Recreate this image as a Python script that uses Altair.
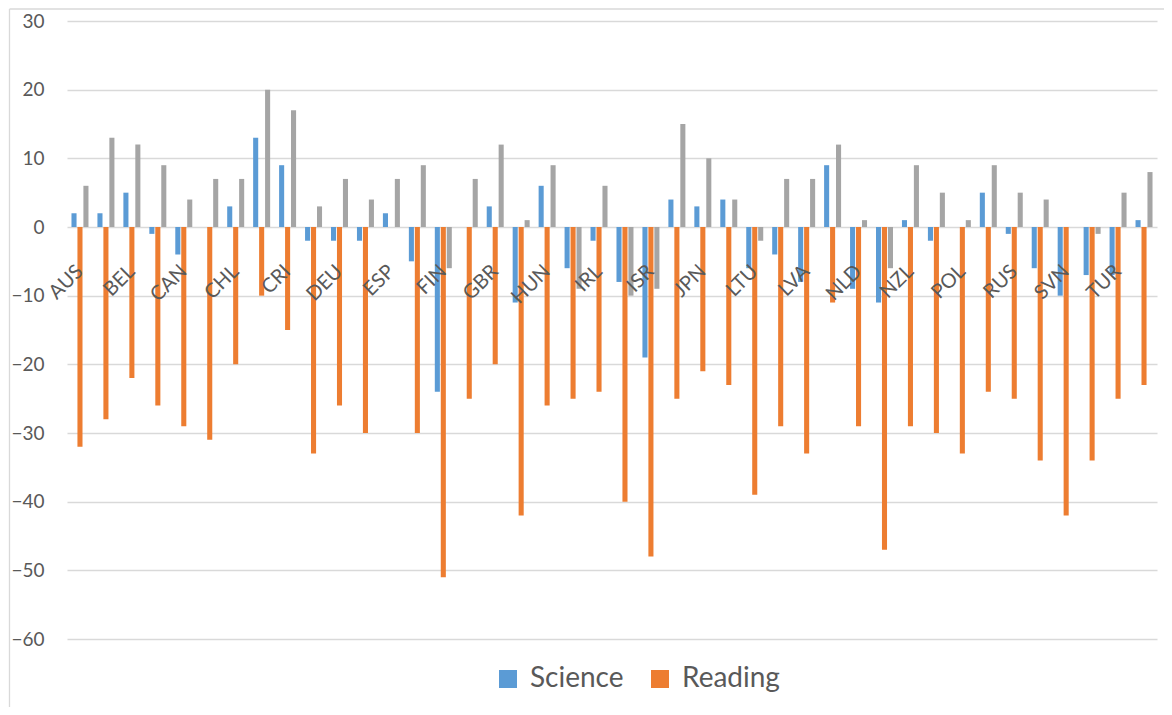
import altair as alt
import pandas as pd

countries = ["AUS", "AUT", "BEL", "BRA", "CAN", "CHE", "CHL", "COL", "CRI", "CZE",
             "DEU", "DNK", "ESP", "EST", "FIN", "FRA", "GBR", "GRC", "HUN", "IDN",
             "IRL", "ISL", "ISR", "ITA", "JPN", "KOR", "LTU", "LUX", "LVA", "MEX",
             "NLD", "NOR", "NZL", "PER", "POL", "PRT", "RUS", "SVK", "SVN", "SWE",
             "TUR", "USA"]

science = [2, 2, 5, -1, -4, 0, 3, 13, 9, -2,
           -2, -2, 2, -5, -24, 0, 3, -11, 6, -6,
           -2, -8, -19, 4, 3, 4, -6, -4, -8, 9,
           -9, -11, 1, -2, 0, 5, -1, -6, -10, -7,
           -7, 1]

reading = [-32, -28, -22, -26, -29, -31, -20, -10, -15, -33,
           -26, -30, None, -30, -51, -25, -20, -42, -26, -25,
           -24, -40, -48, -25, -21, -23, -39, -29, -33, -11,
           -29, -47, -29, -30, -33, -24, -25, -34, -42, -34,
           -25, -23]

mathematics = [6, 13, 12, 9, 4, 7, 7, 20, 17, 3,
               7, 4, 7, 9, -6, 7, 12, 1, 9, -9,
               6, -10, -9, 15, 10, 4, -2, 7, 7, 12,
               1, -6, 9, 5, 1, 9, 5, 4, 0, -1,
               5, 8]

series_names = ["Science", "Reading", "Mathematics"]
series_colors = ["#5B9BD5", "#ED7D31", "#A5A5A5"]
labelled = countries[::2]
y_ticks = [-60, -50, -40, -30, -20, -10, 0, 10, 20, 30]

rows = []
for name, vals in zip(series_names, [science, reading, mathematics]):
    for c, v in zip(countries, vals):
        if v is not None:
            rows.append({"country": c, "series": name, "value": v})
df = pd.DataFrame(rows)

W, H = 1090, 618
y0 = H * 30 / 90  # pixel position of zero line

bars = alt.Chart(df).mark_bar().encode(
    x=alt.X("country:N", sort=countries,
            scale=alt.Scale(paddingInner=0.345, paddingOuter=0.1725),
            axis=alt.Axis(orient="bottom", offset=-(H - y0), values=labelled,
                          labelAngle=-45, labelAlign="right", labelBaseline="middle",
                          labelPadding=41, tickSize=0, ticks=False, domain=False,
                          grid=False, labelFontSize=20, labelColor="#595959",
                          labelOverlap=False, title=None, zindex=1)),
    xOffset=alt.XOffset("series:N", sort=series_names,
                        scale=alt.Scale(paddingInner=0.15)),
    y=alt.Y("value:Q", scale=alt.Scale(domain=[-60, 30], nice=False),
            axis=alt.Axis(values=y_ticks, grid=True, gridColor="#d9d9d9",
                          gridWidth=1.3, domain=False, ticks=False, tickSize=0,
                          labelPadding=23, labelFontSize=19, labelColor="#595959",
                          title=None)),
    color=alt.Color("series:N", sort=series_names,
                    scale=alt.Scale(domain=series_names, range=series_colors),
                    legend=alt.Legend(orient="none", legendX=427, legendY=644,
                                      direction="horizontal",
                                      values=["Science", "Reading"],
                                      symbolType="square", symbolSize=324,
                                      symbolStrokeWidth=0, labelFontSize=28,
                                      labelColor="#595959", labelOffset=8,
                                      columnPadding=22, padding=0, title=None)),
)

one = pd.DataFrame({"a": [0]})
left_border = alt.Chart(one).mark_rule(color="#d9d9d9", strokeWidth=1.3).encode(
    x=alt.value(-57.5), y=alt.value(-12), y2=alt.value(690))
top_border = alt.Chart(one).mark_rule(color="#d9d9d9", strokeWidth=1.3).encode(
    x=alt.value(-57.5), x2=alt.value(1100), y=alt.value(-12))

chart = alt.layer(left_border, top_border, bars).properties(
    width=W, height=H,
    padding={"left": 59, "top": 13, "right": 7, "bottom": 68},
    autosize=alt.AutoSizeParams(type="none"),
).configure(font="Lato").configure_view(stroke=None)

chart.save("out.html", embed_options={"renderer": "svg", "actions": False})
